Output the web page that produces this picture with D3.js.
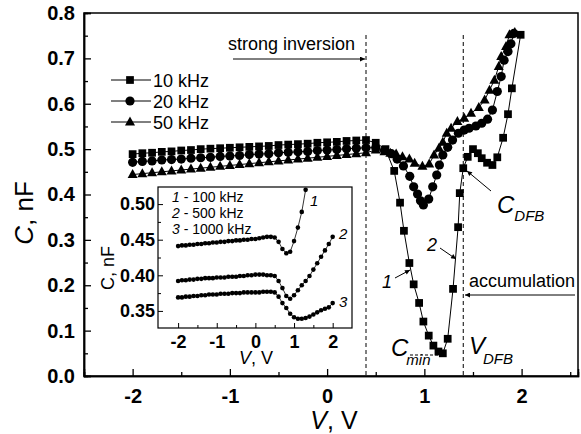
<!doctype html>
<html>
<head>
<meta charset="utf-8">
<title>C-V curves</title>
<script src="https://cdnjs.cloudflare.com/ajax/libs/d3/7.8.5/d3.min.js"></script>
<style>
  body { margin: 0; background: #fff; }
  text { font-family: "Liberation Sans", Arial, sans-serif; fill: #000; }
</style>
</head>
<body>
<div id="chart"></div>
<script>
// main plot data (V in volts, C in nF)
const v10 = [-2,-1.9,-1.8,-1.7,-1.6,-1.5,-1.4,-1.3,-1.2,-1.1,-1,-0.9,-0.8,-0.7,-0.6,-0.5,-0.4,-0.3,-0.2,-0.1,0,0.1,0.2,0.3,0.4,
  0.5,0.6,0.69,0.75,0.79,0.846,0.89,0.946,0.99,1.045,1.093,1.145,1.19,1.24,1.295,1.347,1.364,1.4,1.446,1.5,1.55,1.59,1.645,1.7,1.75,1.81,1.86,1.9,1.99];
const c10 = [0.489,0.491,0.492,0.494,0.495,0.497,0.498,0.500,0.501,0.502,0.503,0.504,0.505,0.506,0.507,0.509,0.510,0.511,0.512,0.514,0.515,0.516,0.518,0.519,0.520,
  0.514,0.500,0.452,0.382,0.320,0.249,0.202,0.161,0.120,0.089,0.067,0.054,0.050,0.082,0.192,0.328,0.403,0.458,0.483,0.500,0.491,0.480,0.470,0.465,0.482,0.525,0.577,0.634,0.752];

const v20 = [-2,-1.9,-1.8,-1.7,-1.6,-1.5,-1.4,-1.3,-1.2,-1.1,-1,-0.9,-0.8,-0.7,-0.6,-0.5,-0.4,-0.3,-0.2,-0.1,0,0.1,0.2,0.3,0.4,
  0.5,0.59,0.66,0.72,0.785,0.85,0.89,0.93,0.96,0.99,1.045,1.086,1.127,1.155,1.19,1.24,1.29,1.35,1.41,1.46,1.53,1.59,1.65,1.7,1.75,1.79,1.82,1.86,1.89,1.92];
const c20 = [0.471,0.473,0.474,0.476,0.477,0.478,0.480,0.481,0.482,0.484,0.485,0.486,0.488,0.489,0.490,0.492,0.493,0.494,0.495,0.497,0.498,0.499,0.501,0.502,0.503,
  0.503,0.497,0.490,0.478,0.463,0.440,0.417,0.401,0.386,0.377,0.390,0.417,0.443,0.465,0.487,0.504,0.520,0.535,0.542,0.546,0.551,0.557,0.566,0.586,0.627,0.660,0.696,0.715,0.732,0.755];

const v50 = [-2,-1.9,-1.8,-1.7,-1.6,-1.5,-1.4,-1.3,-1.2,-1.1,-1,-0.9,-0.8,-0.7,-0.6,-0.5,-0.4,-0.3,-0.2,-0.1,0,0.1,0.2,0.3,0.4,
  0.5,0.59,0.65,0.71,0.775,0.846,0.9,0.98,1.05,1.1,1.15,1.19,1.23,1.275,1.34,1.41,1.48,1.56,1.62,1.67,1.72,1.765,1.79,1.84,1.875,1.93];
const c50 = [0.444,0.446,0.448,0.450,0.452,0.454,0.456,0.458,0.460,0.462,0.464,0.466,0.468,0.470,0.472,0.474,0.476,0.478,0.480,0.482,0.484,0.486,0.488,0.490,0.492,
  0.498,0.494,0.491,0.489,0.483,0.478,0.469,0.462,0.467,0.487,0.502,0.515,0.535,0.546,0.561,0.568,0.579,0.592,0.608,0.630,0.652,0.682,0.704,0.726,0.752,0.757];

const seriesNames = ["10 kHz", "20 kHz", "50 kHz"];

// inset data
const vIn = [-2,-1.9,-1.8,-1.7,-1.6,-1.5,-1.4,-1.3,-1.2,-1.1,-1,-0.9,-0.8,-0.7,-0.6,-0.5,-0.4,-0.3,-0.2,-0.1,0,
  0.1,0.2,0.3,0.4,0.5,0.6,0.7,0.8,0.9,1,1.1,1.2,1.3,1.4,1.5,1.6,1.7,1.8,1.9,2];
const cIn1 = [0.441,0.442,0.442,0.443,0.443,0.444,0.444,0.445,0.445,0.446,0.446,0.447,0.447,0.448,0.448,0.449,0.449,0.450,0.450,0.451,0.451,
  0.452,0.453,0.454,0.454,0.453,0.447,0.437,0.431,0.433,0.448,0.467,0.489,0.520];
const cIn2 = [0.392,0.393,0.393,0.394,0.394,0.395,0.395,0.396,0.396,0.396,0.397,0.397,0.397,0.398,0.398,0.398,0.399,0.399,0.400,0.400,0.401,
  0.401,0.401,0.400,0.400,0.399,0.392,0.382,0.371,0.367,0.372,0.379,0.386,0.392,0.399,0.408,0.417,0.426,0.435,0.444,0.454];
const cIn3 = [0.369,0.369,0.370,0.370,0.371,0.371,0.372,0.372,0.373,0.373,0.373,0.374,0.374,0.374,0.375,0.375,0.375,0.376,0.376,0.376,0.376,
  0.376,0.377,0.377,0.377,0.376,0.370,0.361,0.354,0.346,0.341,0.339,0.339,0.340,0.342,0.345,0.348,0.351,0.353,0.355,0.361];
const insetNames = ["100 kHz", "500 kHz", "1000 kHz"];

const W = 581, H = 434;
const svg = d3.select("#chart").append("svg").attr("width", W).attr("height", H);

const x = d3.scaleLinear().domain([-2.5, 2.58]).range([84, 578]);
const y = d3.scaleLinear().domain([0, 0.8]).range([376, 13]);

// plain hyphen for negatives, like the original
const intFmt = d => String(d);

// frame
svg.append("rect").attr("x", 84).attr("y", 13).attr("width", 494).attr("height", 363)
  .attr("fill", "none").attr("stroke", "#000").attr("stroke-width", 1.5);

// axes with inward ticks
function styleAxis(g) {
  g.select(".domain").attr("stroke-width", 1.5);
  g.selectAll(".tick line").attr("stroke-width", 1.3);
}
svg.append("g").attr("transform", "translate(0,376)")
  .call(d3.axisBottom(x).tickValues([-2,-1,0,1,2]).tickSize(-7).tickPadding(13).tickFormat(intFmt))
  .call(styleAxis)
  .call(g => g.selectAll("text").attr("font-size", 20).attr("font-weight", "bold").attr("font-family", "Liberation Sans, Arial"));
svg.append("g").attr("transform", "translate(0,376)")
  .call(d3.axisBottom(x).tickValues([-2.5,-1.5,-0.5,0.5,1.5,2.5]).tickSize(-4).tickFormat(""))
  .call(styleAxis);
svg.append("g").attr("transform", "translate(84,0)")
  .call(d3.axisLeft(y).tickValues([0,0.1,0.2,0.3,0.4,0.5,0.6,0.7,0.8]).tickSize(-7).tickPadding(9).tickFormat(d3.format(".1f")))
  .call(styleAxis)
  .call(g => g.selectAll("text").attr("font-size", 20).attr("font-weight", "bold").attr("font-family", "Liberation Sans, Arial"));
svg.append("g").attr("transform", "translate(84,0)")
  .call(d3.axisLeft(y).tickValues([0.05,0.15,0.25,0.35,0.45,0.55,0.65,0.75]).tickSize(-4).tickFormat(""))
  .call(styleAxis);

// axis titles
svg.append("text").attr("transform", "translate(33,213) rotate(-90)").attr("text-anchor", "middle")
  .attr("font-size", 26)
  .html('<tspan font-style="italic">C</tspan>, nF');
svg.append("text").attr("x", 334).attr("y", 429).attr("text-anchor", "middle")
  .attr("font-size", 25)
  .html('<tspan font-style="italic">V</tspan>, V');

// dashed vertical lines
[0.4, 1.4].forEach(v => {
  svg.append("line").attr("x1", x(v)).attr("x2", x(v)).attr("y1", 35).attr("y2", 376)
    .attr("stroke", "#000").attr("stroke-width", 1).attr("stroke-dasharray", "4,3");
});

// markers
const sq = d3.symbol().type(d3.symbolSquare).size(60);
const tri = "M0,-5.5L5,3.5L-5,3.5Z";
function marker(g, kind) {
  if (kind === 0) g.append("path").attr("d", sq());
  else if (kind === 1) g.append("circle").attr("r", 4.6);
  else g.append("path").attr("d", tri);
}

const line = d3.line().x(d => x(d[0])).y(d => y(d[1]));
const mainSeries = [[v10, c10], [v20, c20], [v50, c50]];
// draw 50 first so squares sit on top
[2, 1, 0].forEach(k => {
  const pts = d3.zip(mainSeries[k][0], mainSeries[k][1]);
  svg.append("path").datum(pts).attr("d", line).attr("fill", "none").attr("stroke", "#000").attr("stroke-width", 1);
  const g = svg.append("g");
  pts.forEach(p => {
    const m = g.append("g").attr("transform", `translate(${x(p[0])},${y(p[1])})`).attr("fill", "#000");
    marker(m, k);
  });
});

// legend
seriesNames.forEach((name, i) => {
  const yy = 80 + i * 21;
  svg.append("line").attr("x1", 111).attr("x2", 151).attr("y1", yy).attr("y2", yy).attr("stroke", "#000");
  const m = svg.append("g").attr("transform", `translate(130,${yy})`).attr("fill", "#000");
  marker(m, i);
  svg.append("text").attr("x", 153).attr("y", yy + 6.5).attr("font-size", 18).text(name);
});

// annotations
const defs = svg.append("defs");
defs.append("marker").attr("id", "arr").attr("viewBox", "0 0 10 10").attr("refX", 10).attr("refY", 5)
  .attr("markerWidth", 9).attr("markerHeight", 5).attr("orient", "auto").attr("markerUnits", "userSpaceOnUse")
  .append("path").attr("d", "M0,0L10,5L0,10Z").attr("fill", "#000");

svg.append("text").attr("x", 228).attr("y", 50).attr("font-size", 18).text("strong inversion");
svg.append("line").attr("x1", 233).attr("x2", 365).attr("y1", 59).attr("y2", 59)
  .attr("stroke", "#000").attr("marker-end", "url(#arr)");

svg.append("text").attr("x", 469).attr("y", 287).attr("font-size", 18).text("accumulation");
svg.append("line").attr("x1", 575).attr("x2", 465).attr("y1", 295).attr("y2", 295)
  .attr("stroke", "#000").attr("marker-end", "url(#arr)");

svg.append("text").attr("x", 497).attr("y", 213).attr("font-size", 24)
  .html('<tspan font-style="italic">C</tspan><tspan font-style="italic" font-size="15" dy="8">DFB</tspan>');
svg.append("line").attr("x1", 491).attr("y1", 191).attr("x2", 467).attr("y2", 171)
  .attr("stroke", "#000").attr("marker-end", "url(#arr)");

svg.append("text").attr("x", 469).attr("y", 354).attr("font-size", 24)
  .html('<tspan font-style="italic">V</tspan><tspan font-style="italic" font-size="15" dy="10" dx="-2">DFB</tspan>');

svg.append("text").attr("x", 391).attr("y", 356).attr("font-size", 24)
  .html('<tspan font-style="italic">C</tspan><tspan font-style="italic" font-size="15" dy="9" dx="-2">min</tspan>');
svg.append("line").attr("x1", 410).attr("x2", 440).attr("y1", 355).attr("y2", 355)
  .attr("stroke", "#000").attr("stroke-dasharray", "3,2");

svg.append("text").attr("x", 427).attr("y", 251).attr("font-size", 18).attr("font-style", "italic").text("2");
svg.append("line").attr("x1", 440).attr("y1", 248).attr("x2", 456).attr("y2", 259)
  .attr("stroke", "#000").attr("marker-end", "url(#arr)");
svg.append("text").attr("x", 382).attr("y", 288).attr("font-size", 18).attr("font-style", "italic").text("1");
svg.append("line").attr("x1", 395).attr("y1", 278).attr("x2", 410).attr("y2", 270)
  .attr("stroke", "#000").attr("marker-end", "url(#arr)");

// ---- inset ----
const xi = d3.scaleLinear().domain([-2.52, 2.5]).range([158, 352]);
const yi = d3.scaleLinear().domain([0.326, 0.524]).range([328, 187]);

svg.append("rect").attr("x", 158).attr("y", 187).attr("width", 194).attr("height", 141)
  .attr("fill", "#fff").attr("stroke", "#000").attr("stroke-width", 1.2);

svg.append("g").attr("transform", "translate(0,328)")
  .call(d3.axisBottom(xi).tickValues([-2,-1,0,1,2]).tickSize(-5).tickPadding(7).tickFormat(intFmt))
  .call(g => g.select(".domain").remove())
  .call(g => g.selectAll("text").attr("font-size", 18).attr("font-weight", "bold").attr("font-family", "Liberation Sans, Arial"));
svg.append("g").attr("transform", "translate(0,328)")
  .call(d3.axisBottom(xi).tickValues([-1.5,-0.5,0.5,1.5]).tickSize(-3).tickFormat(""))
  .call(g => g.select(".domain").remove());
svg.append("g").attr("transform", "translate(158,0)")
  .call(d3.axisLeft(yi).tickValues([0.35,0.40,0.45,0.50]).tickSize(-5).tickPadding(3).tickFormat(d3.format(".2f")))
  .call(g => g.select(".domain").remove())
  .call(g => g.selectAll("text").attr("font-size", 18).attr("font-weight", "bold").attr("font-family", "Liberation Sans, Arial"));
svg.append("g").attr("transform", "translate(158,0)")
  .call(d3.axisLeft(yi).tickValues([0.375,0.425,0.475]).tickSize(-3).tickFormat(""))
  .call(g => g.select(".domain").remove());

svg.append("text").attr("transform", "translate(114,268) rotate(-90)").attr("text-anchor", "middle")
  .attr("font-size", 18).text("C, nF");
svg.append("text").attr("x", 256).attr("y", 364).attr("text-anchor", "middle").attr("font-size", 18)
  .html('<tspan font-style="italic">V</tspan>, V');

const lineIn = d3.line().x(d => xi(d[0])).y(d => yi(d[1]));
[cIn1, cIn2, cIn3].forEach(cs => {
  const pts = d3.zip(vIn.slice(0, cs.length), cs);
  svg.append("path").datum(pts).attr("d", lineIn).attr("fill", "none").attr("stroke", "#000").attr("stroke-width", 0.8);
  svg.append("g").selectAll("circle").data(pts).join("circle")
    .attr("cx", d => xi(d[0])).attr("cy", d => yi(d[1])).attr("r", 2.3).attr("fill", "#000");
});

insetNames.forEach((name, i) => {
  svg.append("text").attr("x", 172).attr("y", 202 + i * 16).attr("font-size", 14)
    .html(`<tspan font-style="italic">${i + 1}</tspan> - ${name}`);
});
svg.append("text").attr("x", 310).attr("y", 206).attr("font-size", 15).attr("font-style", "italic").text("1");
svg.append("text").attr("x", 339).attr("y", 239).attr("font-size", 15).attr("font-style", "italic").text("2");
svg.append("text").attr("x", 339).attr("y", 307).attr("font-size", 15).attr("font-style", "italic").text("3");
</script>
</body>
</html>
